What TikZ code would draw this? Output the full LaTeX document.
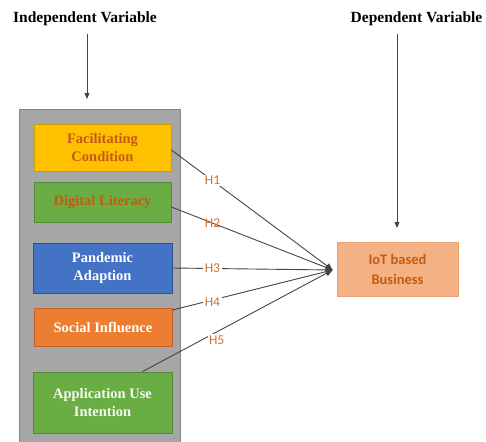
\documentclass[tikz,border=0pt]{standalone}
\usepackage{fontspec}
\setmainfont{Liberation Serif}
\newfontfamily\calibri{Carlito}
\usetikzlibrary{arrows.meta,calc}

\definecolor{gold}{HTML}{FFC000}
\definecolor{goldline}{HTML}{C9A000}
\definecolor{leaf}{HTML}{6AAD45}
\definecolor{leafline}{HTML}{55893A}
\definecolor{royal}{HTML}{4472C4}
\definecolor{royalline}{HTML}{2F528F}
\definecolor{tang}{HTML}{ED7D31}
\definecolor{tangline}{HTML}{C0622A}
\definecolor{rust}{HTML}{C55A11}
\definecolor{salmon}{HTML}{F4B183}
\definecolor{salmonline}{HTML}{EBA273}
\definecolor{panel}{HTML}{A6A6A6}
\definecolor{panelline}{HTML}{858585}
\definecolor{wire}{HTML}{454545}

\begin{document}
\begin{tikzpicture}[x=1pt,y=-1pt,
  title/.style={font=\fontsize{15.5}{18}\selectfont\bfseries},
  varbox/.style={draw, line width=0.8pt, align=center, inner sep=0pt,
    font=\fontsize{14.5}{18}\selectfont\bfseries},
  hline/.style={draw=wire, line width=0.9pt, -{Triangle[length=7pt,width=6pt]}},
  hlabel/.style={font=\calibri\fontsize{13.5}{13.5}\selectfont, text=rust!85!white,
    fill=white, inner sep=1.5pt},
  downarrow/.style={draw=wire, line width=0.9pt, -{Triangle[length=6pt,width=5pt]}}
]
\useasboundingbox (0,0) rectangle (486,441);

% headings
\node[title] (iv) at (85,19) {Independent Variable};
\node[title] (dv) at (416.5,19) {Dependent Variable};

% panel holding the independent variables
\path[fill=panel, draw=panelline, line width=0.8pt] (19,109) rectangle (180,445);
\coordinate (panelTop) at (87,99);

% independent variables
\node[varbox, fill=gold, draw=goldline, text=rust,
  minimum width=137pt, minimum height=47pt] (fc) at (102.5,147.5)
  {Facilitating\\Condition};
\node[varbox, fill=leaf, draw=leafline, text=rust,
  minimum width=137pt, minimum height=40pt] (dl) at (102.5,202)
  {Digital Literacy};
\node[varbox, fill=royal, draw=royalline, text=white,
  minimum width=139pt, minimum height=50pt] (pa) at (102.5,268)
  {Pandemic\\Adaption};
\node[varbox, fill=tang, draw=tangline, text=white,
  minimum width=138pt, minimum height=38pt] (si) at (103,327)
  {Social Influence};
\node[varbox, fill=leaf, draw=leafline, text=white!94!leaf,
  minimum width=139pt, minimum height=61pt] (aui) at (102.5,402.5)
  {Application Use\\Intention};

% dependent variable
\node[draw=salmonline, fill=salmon, line width=0.8pt, align=center, inner sep=0pt,
  minimum width=121pt, minimum height=54pt, text=rust,
  font=\calibri\fontsize{14.5}{20}\selectfont\bfseries] (iot) at (397.5,269)
  {IoT based\\Business};
\coordinate (iotTop) at (397,228);
\coordinate (hub) at ($(iot.west)+(-4,1)$);

% heading arrows
\draw[downarrow] (iv.south -| panelTop) ++(0,4) -- (panelTop);
\draw[downarrow] (dv.south -| iotTop) ++(0,4) -- (iotTop);

% hypothesised paths
\draw[hline] ($(fc.east)+(0,2.5)$) -- node[hlabel, pos=0.255] {H1} (hub);
\draw[hline] ($(dl.east)+(0,5)$) -- node[hlabel, pos=0.255, fill=none] {H2} (hub);
\draw[hline] (pa.east) -- node[hlabel, pos=0.25] {H3} (hub);
\draw[hline] ($(si.east)+(0,-17)$) -- node[hlabel, pos=0.25, yshift=-2pt] {H4} (hub);
\draw[hline] ($(aui.north)+(40,0)$) -- node[hlabel, pos=0.39, yshift=-8pt] {H5} (hub);
\end{tikzpicture}
\end{document}
